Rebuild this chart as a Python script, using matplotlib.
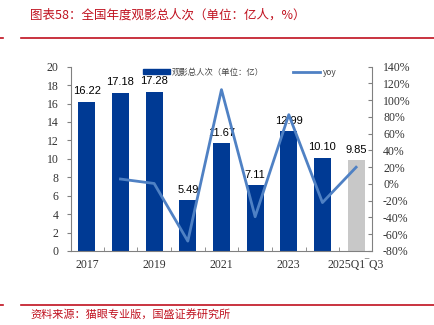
import matplotlib
matplotlib.use("Agg")
import matplotlib.pyplot as plt
from matplotlib.lines import Line2D
from matplotlib.patches import Patch
import numpy as np

categories = ["2017", "2018", "2019", "2020", "2021", "2022", "2023", "2024", "2025Q1‾Q3"]
attendance = [16.22, 17.18, 17.28, 5.49, 11.67, 7.11, 12.99, 10.10, 9.85]
yoy = [None, 5.9, 0.6, -68.2, 112.6, -39.1, 82.7, -22.2, 20.0]
tick_labels = ["2017", "", "2019", "", "2021", "", "2023", "", "2025Q1‾Q3"]
left_ticks = list(range(0, 21, 2))
right_ticks = list(range(-80, 141, 20))

CJK = ["Noto Sans CJK SC", "DejaVu Sans"]
SERIF = ["Liberation Serif", "DejaVu Serif"]
SANS = ["Liberation Sans", "DejaVu Sans"]
RED = "#C0111F"
BLUE = "#003A94"
GRAY = "#C8C8C8"
LINE = "#4F81C4"

plt.rcParams["font.family"] = SERIF

fig = plt.figure(figsize=(4.34, 3.25), dpi=100)
ax = fig.add_axes([0.1636, 0.2277, 0.857 - 0.1636, 0.7948 - 0.2277])
ax2 = ax.twinx()

x = np.arange(len(categories))
colors = [BLUE] * (len(categories) - 1) + [GRAY]
ax.bar(x, attendance, width=0.5, color=colors, zorder=2)
for xi, v in zip(x, attendance):
    ax.annotate(f"{v:.2f}", (xi, v), xytext=(0, 4), textcoords="offset points",
                ha="center", va="bottom", fontsize=8, family=SANS, zorder=5)

yx = [xi for xi, v in zip(x, yoy) if v is not None]
yv = [v for v in yoy if v is not None]
ax2.plot(yx, yv, color=LINE, lw=2, zorder=3)

ax.set_xlim(-0.47, 8.47)
ax.set_ylim(0, 20)
ax2.set_ylim(-80, 140)
ax.set_yticks(left_ticks)
ax2.set_yticks(right_ticks)
ax2.set_yticklabels([f"{t}%" for t in right_ticks])
ax.set_xticks(x)
ax.set_xticklabels(tick_labels)
ax.set_xticks(x[:-1] + 0.5, minor=True)

for a in (ax, ax2):
    a.spines["top"].set_visible(False)
ax.spines["right"].set_visible(False)
ax2.spines["left"].set_visible(False)
ax2.spines["bottom"].set_visible(False)
for s in ("left", "bottom"):
    ax.spines[s].set_color("#808080")
    ax.spines[s].set_linewidth(0.8)
ax2.spines["right"].set_color("#808080")
ax2.spines["right"].set_linewidth(0.8)

ax.tick_params(axis="x", which="major", length=0, pad=6, labelsize=8.5,
               labelcolor="#333333", labelfontfamily="Liberation Serif")
ax.tick_params(axis="x", which="minor", direction="in", length=3, color="#808080")
ax.tick_params(axis="y", direction="out", length=3, color="#808080", labelsize=8.5, pad=6,
               labelcolor="#333333", labelfontfamily="Liberation Serif")
ax2.tick_params(axis="y", direction="in", length=3, color="#808080", labelsize=8.5, pad=8,
                labelcolor="#333333", labelfontfamily="Liberation Serif")

handles = [Patch(color=BLUE), Line2D([0], [0], color=LINE, lw=2)]
leg = ax.legend(handles, ["观影总人次（单位：亿）", "yoy"], loc="upper center",
                bbox_to_anchor=(0.56, 1.035), ncol=2, frameon=False,
                prop={"family": CJK, "size": 6}, handlelength=3.2, handleheight=0.6,
                columnspacing=3.5, handletextpad=0.3)
for t in leg.get_texts():
    t.set_color("#444444")

# header and footer
fig.text(0.07, 0.955, "图表58：全国年度观影总人次（单位：亿人，%）", color=RED,
         fontsize=9, family=CJK, style="italic", va="center")
fig.add_artist(Line2D([0.048, 1.0], [0.883, 0.883], color=RED, lw=1.2))
fig.add_artist(Line2D([0.0, 0.006], [0.883, 0.883], color=RED, lw=1.2))
fig.add_artist(Line2D([0.048, 1.0], [0.062, 0.062], color=RED, lw=1.2))
fig.add_artist(Line2D([0.0, 0.006], [0.062, 0.062], color=RED, lw=1.2))
fig.text(0.07, 0.032, "资料来源：猫眼专业版，国盛证券研究所", color=RED,
         fontsize=8, family=CJK, style="italic", va="center")

fig.savefig("out.png", dpi=100)
